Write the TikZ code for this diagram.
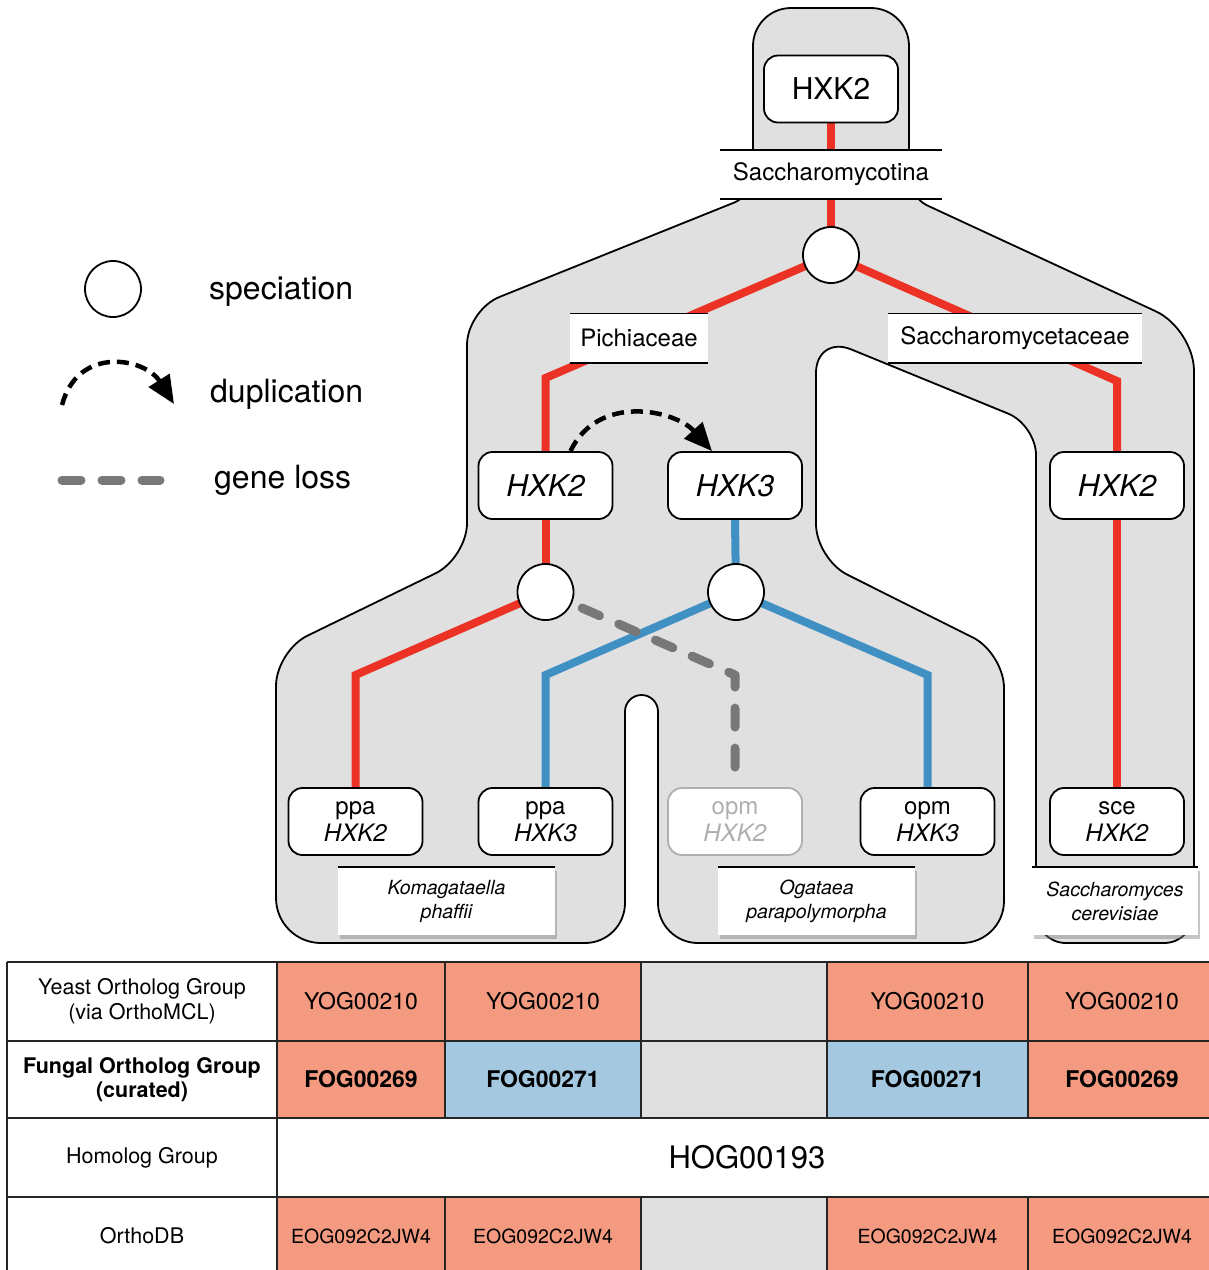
\documentclass[tikz,border=0pt]{standalone}
\usepackage{fontspec}
\setmainfont{TeX Gyre Heros}
\usetikzlibrary{arrows.meta,shadows}
\pgfdeclarelayer{bg}
\pgfdeclarelayer{edges}
\pgfsetlayers{bg,edges,main}
\definecolor{shapegray}{RGB}{224,224,224}
\definecolor{genered}{RGB}{236,50,36}
\definecolor{geneblue}{RGB}{64,144,196}
\definecolor{lossgray}{RGB}{120,120,120}
\definecolor{salmon}{RGB}{243,154,128}
\definecolor{cellblue}{RGB}{163,200,224}
\definecolor{cellgray}{RGB}{224,224,224}
\definecolor{fadegray}{RGB}{175,175,175}
\newcommand\setfs[2]{\fontsize{#1}{#2}\selectfont}
\tikzset{
  genebox/.style={draw, line width=1.8pt, fill=white, rounded corners=14pt,
    minimum width=134pt, minimum height=67pt, inner sep=0pt, align=center},
  topgene/.style={genebox, font=\setfs{30}{34}},
  midgene/.style={genebox, font=\setfs{30}{34}\itshape},
  leafgene/.style={genebox, font=\setfs{24}{27}},
  spec/.style={circle, draw, line width=1.8pt, fill=white, minimum size=56pt, inner sep=0pt},
  clade/.style={fill=white, inner sep=0pt, minimum height=49pt, font=\setfs{24}{28}},
  cladeline/.style={line width=1.6pt, black},
  species/.style={fill=white, inner sep=0pt, minimum height=68pt, align=center,
    font=\setfs{19.5}{24}\itshape,
    drop shadow={shadow xshift=1.5pt, shadow yshift=-4pt, opacity=0.45}},
  redline/.style={line width=8pt, genered, line join=miter},
  blueline/.style={line width=8pt, geneblue, line join=miter},
  lossline/.style={line width=9pt, lossgray, line cap=round, line join=round,
    dash pattern=on 19pt off 21pt},
  dupline/.style={line width=4.5pt, black, dash pattern=on 12pt off 7pt,
    -{Triangle[length=28pt,width=24pt]}},
  legtext/.style={anchor=west, inner sep=0pt, font=\setfs{32}{36}},
  tcell/.style={inner sep=0pt, align=center, font=\setfs{21.5}{24.5}},
  tval/.style={inner sep=0pt, font=\setfs{23}{27}},
  tline/.style={line width=2pt, black!85},
}
\begin{document}
\begin{tikzpicture}[x=1pt,y=-1pt]
\useasboundingbox (0,0) rectangle (1209,1270);

% ---------- gray clade shape ----------
\begin{pgfonlayer}{bg}
\path[fill=shapegray, draw=black, line width=1.8pt]
  (831,8) [rounded corners=38pt] -- (909,8)
  [rounded corners=20pt] -- (909,197)
  [rounded corners=42pt] -- (1194,329)
  [rounded corners=30pt] -- (1194,943)
  [rounded corners=30pt] -- (1036,943)
  [rounded corners=30pt] -- (1036,425)
  [rounded corners=38pt] -- (816,335)
  [rounded corners=35pt] -- (816,559)
  [rounded corners=35pt] -- (1004,653)
  [rounded corners=42pt] -- (1004,943)
  [rounded corners=40pt] -- (658,943)
  [rounded corners=16.5pt] -- (658,695)
  [rounded corners=16.5pt] -- (625,695)
  [rounded corners=40pt] -- (625,943)
  [rounded corners=45pt] -- (276,943)
  [rounded corners=35pt] -- (276,651)
  [rounded corners=35pt] -- (467,558)
  [rounded corners=35pt] -- (467,310)
  [rounded corners=20pt] -- (753,195)
  [rounded corners=38pt] -- (753,8)
  [sharp corners] -- cycle;
\end{pgfonlayer}

% ---------- gene nodes ----------
\node[topgene] (hxtop) at (831,89) {HXK2};
\node[spec] (s1) at (831,255) {};
\node[midgene] (hxa) at (545.5,485.5) {HXK2};
\node[midgene] (hxb) at (735,485.5) {HXK3};
\node[midgene] (hxc) at (1117,485.5) {HXK2};
\node[spec] (s2) at (545.5,592) {};
\node[spec] (s3) at (736,592) {};
\node[leafgene] (ppa2) at (355.5,821.5) {ppa\\\textit{HXK2}};
\node[leafgene] (ppa3) at (545.5,821.5) {ppa\\\textit{HXK3}};
\node[leafgene, draw=fadegray, text=fadegray] (opm2) at (735,821.5) {opm\\\textit{HXK2}};
\node[leafgene] (opm3) at (927.5,821.5) {opm\\\textit{HXK3}};
\node[leafgene] (sce) at (1117,821.5) {sce\\\textit{HXK2}};

% ---------- clade labels ----------
\node[clade, minimum width=222pt] (lsac) at (831,174.5) {Saccharomycotina};
\draw[cladeline] (lsac.north west) -- (lsac.north east);
\draw[cladeline] (lsac.south west) -- (lsac.south east);
\node[clade, minimum width=138pt] (lpic) at (639,338) {Pichiaceae};
\draw[cladeline] (lpic.north west) -- (lpic.north east);
\draw[cladeline] (lpic.south west) -- (lpic.south east);
\node[clade, minimum width=254pt] (lscc) at (1015,338) {Saccharomycetaceae};
\draw[cladeline] (lscc.north west) -- (lscc.north east);
\draw[cladeline] (lscc.south west) -- (lscc.south east);

% ---------- species labels ----------
\node[species, minimum width=217pt] (kp) at (446.5,901) {Komagataella\\phaffii};
\draw[cladeline] (kp.north west) -- (kp.north east);
\node[species, minimum width=197pt] (op) at (816.5,901) {Ogataea\\parapolymorpha};
\draw[cladeline] (op.north west) -- (op.north east);
\node[species, minimum width=166pt] (sc) at (1115,901) {Saccharomyces\\cerevisiae};
\draw[cladeline] (sc.north west) -- (sc.north east);

% ---------- edges ----------
\coordinate (c1) at (545.5,378);
\coordinate (c2) at (1117,381);
\coordinate (c3) at (355.5,675);
\coordinate (c4) at (545.5,675);
\coordinate (c5) at (927.5,675);
\coordinate (c6) at (735,675);
\begin{pgfonlayer}{edges}
\draw[redline] (hxtop.south) -- (s1.center);
\draw[redline] (s1.center) -- (c1) -- (hxa.north);
\draw[redline] (s1.center) -- (c2) -- (hxc.north);
\draw[redline] (hxa.south) -- (s2.center);
\draw[redline] (s2.center) -- (c3) -- (ppa2.north);
\draw[redline] (hxc.south) -- (sce.north);
\draw[blueline] (hxb.south) -- (s3.center);
\draw[blueline] (s3.center) -- (c4) -- (ppa3.north);
\draw[blueline] (s3.center) -- (c5) -- (opm3.north);
\draw[lossline] (s2.center) -- (c6) -- (opm2.north);
\end{pgfonlayer}
\draw[dupline] ([xshift=25pt]hxa.north) .. controls (598,393) and (675,410) .. ([xshift=-23pt]hxb.north);

% ---------- legend ----------
\node[spec] (legcirc) at (113,289) {};
\node[legtext] (legspec) at (209,292) {speciation};
\coordinate (la) at (62,405);
\coordinate (lb) at (174,404);
\draw[dupline] (la) .. controls (78,345) and (145,358) .. (lb);
\node[legtext] (legdup) at (210,394) {duplication};
\coordinate (lg1) at (62,480);
\coordinate (lg2) at (160,480);
\draw[lossline] (lg1) -- (lg2);
\node[legtext] (legloss) at (214,480) {gene loss};

% ---------- table ----------
% row 1
\fill[salmon] (277,962) rectangle (641,1041);
\fill[cellgray] (641,962) rectangle (827,1041);
\fill[salmon] (827,962) rectangle (1215,1041);
% row 2
\fill[salmon] (277,1041) rectangle (445,1118);
\fill[cellblue] (445,1041) rectangle (641,1118);
\fill[cellgray] (641,1041) rectangle (827,1118);
\fill[cellblue] (827,1041) rectangle (1028,1118);
\fill[salmon] (1028,1041) rectangle (1215,1118);
% row 4
\fill[salmon] (277,1197) rectangle (641,1280);
\fill[cellgray] (641,1197) rectangle (827,1280);
\fill[salmon] (827,1197) rectangle (1215,1280);
% grid
\foreach \yy in {962,1041,1118,1197} \draw[tline] (7,\yy) -- (1215,\yy);
\foreach \xx in {7,277} \draw[tline] (\xx,962) -- (\xx,1280);
\foreach \xx in {445,641,827,1028} {
  \draw[tline] (\xx,962) -- (\xx,1118);
  \draw[tline] (\xx,1197) -- (\xx,1280);
}
% headers
\node[tcell] (h1) at (142,1001) {Yeast Ortholog Group\\(via OrthoMCL)};
\node[tcell] (h2) at (142,1079.5) {\bfseries Fungal Ortholog Group\\\bfseries (curated)};
\node[tcell] (h3) at (142,1157.5) {Homolog Group};
\node[tcell] (h4) at (142,1236) {OrthoDB};
% values
\node[tval] (y1) at (361,1001) {YOG00210};
\node[tval] (y2) at (543,1001) {YOG00210};
\node[tval] (y4) at (927.5,1001) {YOG00210};
\node[tval] (y5) at (1122,1001) {YOG00210};
\node[tval, font=\setfs{23}{27}\bfseries] (f1) at (361,1079.5) {FOG00269};
\node[tval, font=\setfs{23}{27}\bfseries] (f2) at (543,1079.5) {FOG00271};
\node[tval, font=\setfs{23}{27}\bfseries] (f4) at (927.5,1079.5) {FOG00271};
\node[tval, font=\setfs{23}{27}\bfseries] (f5) at (1122,1079.5) {FOG00269};
\node[tval, font=\setfs{31}{36}] (hog) at (747,1157.5) {HOG00193};
\node[tval, font=\setfs{19.5}{23}] (e1) at (361,1236) {EOG092C2JW4};
\node[tval, font=\setfs{19.5}{23}] (e2) at (543,1236) {EOG092C2JW4};
\node[tval, font=\setfs{19.5}{23}] (e4) at (927.5,1236) {EOG092C2JW4};
\node[tval, font=\setfs{19.5}{23}] (e5) at (1122,1236) {EOG092C2JW4};
\end{tikzpicture}
\end{document}
